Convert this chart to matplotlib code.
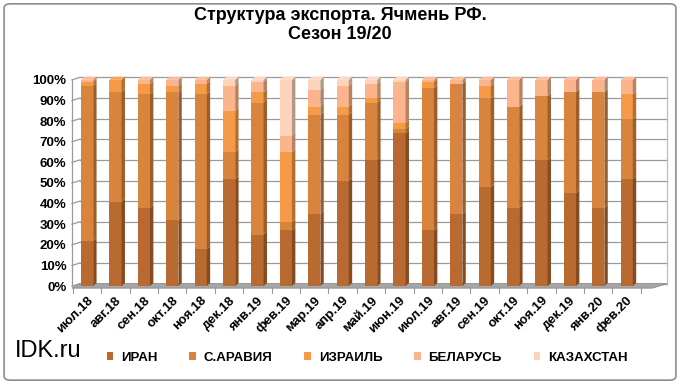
import numpy as np
import matplotlib
matplotlib.use('Agg')
import matplotlib.pyplot as plt
from matplotlib.patches import Polygon, FancyBboxPatch, Patch
from matplotlib.colors import to_rgb

months = ['июл.18', 'авг.18', 'сен.18', 'окт.18', 'ноя.18', 'дек.18', 'янв.19',
          'фев.19', 'мар.19', 'апр.19', 'май.19', 'июн.19', 'июл.19', 'авг.19',
          'сен.19', 'окт.19', 'ноя.19', 'дек.19', 'янв.20', 'фев.20']

# shares in %
iran     = [22, 41, 38, 32, 18, 52, 25, 27, 35, 51, 61, 74, 27, 35, 48, 38, 61, 45, 38, 52]
saudi    = [75, 53, 55, 62, 75, 13, 64, 4, 48, 32, 28, 2, 69, 63, 43, 49, 31, 49, 56, 29]
israel   = [2, 6, 5, 3, 5, 20, 5, 34, 4, 4, 2, 3, 3, 0, 6, 0, 0, 0, 0, 12]
belarus  = [1, 0, 2, 3, 2, 12, 5, 8, 8, 10, 7, 20, 1, 2, 3, 13, 8, 6, 6, 7]
kazakh   = [0, 0, 0, 0, 0, 3, 1, 27, 5, 3, 2, 1, 0, 0, 0, 0, 0, 0, 0, 0]

series = [iran, saudi, israel, belarus, kazakh]
names = ['ИРАН', 'С.АРАВИЯ', 'ИЗРАИЛЬ', 'БЕЛАРУСЬ', 'КАЗАХСТАН']
colors = ['#b96a30', '#d9843d', '#f79a48', '#fbb48c', '#fdd3bb']

plt.rcParams['font.family'] = ['Liberation Sans', 'DejaVu Sans']

fig = plt.figure(figsize=(6.8, 3.84), dpi=100)
fig.patches.append(FancyBboxPatch((0.006, 0.01), 0.988, 0.98, boxstyle='round,pad=0,rounding_size=0.01',
                                  transform=fig.transFigure, fc='none', ec='#8c8c8c', lw=1.2))

fig.text(0.5, 0.935, 'Структура экспорта. Ячмень РФ.\nСезон 19/20', ha='center', va='center',
         fontsize=13, fontweight='bold', linespacing=1.15)

ax = fig.add_axes([72 / 680, 0.255, (667 - 72) / 680, 0.537])
x = np.arange(len(months))
ax.set_xlim(-0.53, 20.42)
ax.set_ylim(0, 100)

# back wall grid with a little depth
for v in range(0, 101, 10):
    ax.plot([-0.25, 20.42], [v + 1.2, v + 1.2], color='#9a9a9a', lw=0.9, zorder=1, clip_on=False)
    ax.plot([-0.53, -0.25], [v, v + 1.2], color='#9a9a9a', lw=0.9, zorder=1, clip_on=False)
ax.plot([-0.53, -0.53], [0, 100], color='#9a9a9a', lw=0.9, zorder=1, clip_on=False)
ax.plot([20.42, 20.42], [1.2, 101.2], color='#bdbdbd', lw=0.9, zorder=1, clip_on=False)

# floor
floor = Polygon([[-0.53, -1.0], [19.9, -1.0], [20.42, 1.2], [-0.25, 1.2]], closed=True,
                fc='#a6a6a6', ec='#8c8c8c', lw=0.6, zorder=2, clip_on=False)
ax.add_patch(floor)

w = 0.43
dx, dy = 0.12, 1.5
bottom = np.zeros(len(months))
for vals, name, c in zip(series, names, colors):
    vals = np.array(vals, dtype=float)
    ax.bar(x, vals, w, bottom=bottom, color=c, edgecolor='none', zorder=3, label=name)
    side = tuple(np.array(to_rgb(c)) * 0.72)
    for xi, b, v in zip(x, bottom, vals):
        if v <= 0:
            continue
        r = xi + w / 2
        ax.add_patch(Polygon([[r, b], [r + dx, b + dy], [r + dx, b + v + dy], [r, b + v]],
                             closed=True, fc=side, ec='none', zorder=3, clip_on=False))
    bottom += vals

# top faces
top_col = []
for i in range(len(months)):
    idx = max(k for k in range(len(series)) if series[k][i] > 0)
    top_col.append(colors[idx])
for xi, t, c in zip(x, bottom, top_col):
    l = xi - w / 2
    ax.add_patch(Polygon([[l, t], [l + dx, t + dy], [l + w + dx, t + dy], [l + w, t]],
                         closed=True, fc=tuple(np.array(to_rgb(c)) * 0.9 + 0.1), ec='none',
                         zorder=4, clip_on=False))

for s in ax.spines.values():
    s.set_visible(False)
ax.set_yticks(range(0, 101, 10))
ax.set_yticklabels([f'{v}%' for v in range(0, 101, 10)], fontsize=9.5, fontweight='bold')
ax.tick_params(axis='y', length=0, pad=4)
ax.set_xticks(x)
ax.set_xticklabels(months, rotation=45, ha='right', rotation_mode='anchor',
                   fontsize=9.5, fontweight='bold')
ax.tick_params(axis='x', length=0, pad=6)
for v in np.arange(-0.5, 20, 1):
    ax.plot([v, v], [-1.0, -3.5], color='#9a9a9a', lw=0.8, clip_on=False, zorder=1)

fig.text(15 / 680, 0.085, 'IDK.ru', fontsize=17, va='center')

handles = [Patch(facecolor=c, edgecolor='none') for c in colors]
leg = fig.legend(handles, names, loc='center', bbox_to_anchor=(0.54, 0.068), ncol=5,
                 frameon=False, handlelength=0.5, handleheight=0.5, handletextpad=0.6,
                 columnspacing=2.4, prop={'weight': 'bold', 'size': 9.5})

fig.savefig('out.png', dpi=100)
